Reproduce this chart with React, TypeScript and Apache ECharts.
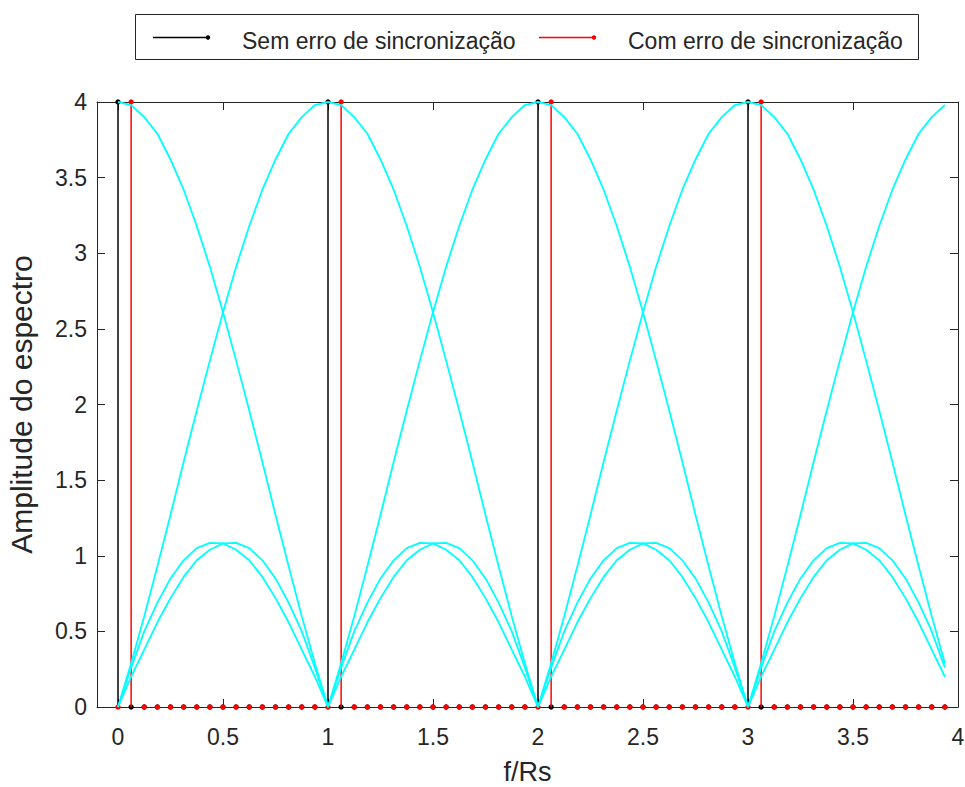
import React, { useEffect, useRef } from 'react';
import * as echarts from 'echarts';

// Normalised frequency f/Rs of every sample
const FREQ = [
  0, 0.0625, 0.125, 0.1875, 0.25, 0.3125, 0.375, 0.4375, 0.5, 0.5625, 0.625, 0.6875, 0.75, 0.8125, 0.875, 0.9375,
  1, 1.0625, 1.125, 1.1875, 1.25, 1.3125, 1.375, 1.4375, 1.5, 1.5625, 1.625, 1.6875, 1.75, 1.8125, 1.875, 1.9375,
  2, 2.0625, 2.125, 2.1875, 2.25, 2.3125, 2.375, 2.4375, 2.5, 2.5625, 2.625, 2.6875, 2.75, 2.8125, 2.875, 2.9375,
  3, 3.0625, 3.125, 3.1875, 3.25, 3.3125, 3.375, 3.4375, 3.5, 3.5625, 3.625, 3.6875, 3.75, 3.8125, 3.875, 3.9375,
];

// Stem values: "Sem erro de sincronização" (black)
const STEM_SEM = [
  4, 0, 0, 0, 0, 0, 0, 0, 0, 0, 0, 0, 0, 0, 0, 0,
  4, 0, 0, 0, 0, 0, 0, 0, 0, 0, 0, 0, 0, 0, 0, 0,
  4, 0, 0, 0, 0, 0, 0, 0, 0, 0, 0, 0, 0, 0, 0, 0,
  4, 0, 0, 0, 0, 0, 0, 0, 0, 0, 0, 0, 0, 0, 0, 0,
];

// Stem values: "Com erro de sincronização" (red)
const STEM_COM = [
  0, 4, 0, 0, 0, 0, 0, 0, 0, 0, 0, 0, 0, 0, 0, 0,
  0, 4, 0, 0, 0, 0, 0, 0, 0, 0, 0, 0, 0, 0, 0, 0,
  0, 4, 0, 0, 0, 0, 0, 0, 0, 0, 0, 0, 0, 0, 0, 0,
  0, 4, 0, 0, 0, 0, 0, 0, 0, 0, 0, 0, 0, 0, 0, 0,
];

// Cyan spectrum envelopes (one per carrier at 0, 1, 2, 3)
const ENV_0 = [
  4.00, 3.98, 3.90, 3.79, 3.62, 3.42, 3.18, 2.91, 2.61, 2.29, 1.96, 1.62, 1.27, 0.93, 0.60, 0.29,
  0, 0.26, 0.50, 0.69, 0.85, 0.97, 1.05, 1.085, 1.082, 1.04, 0.97, 0.86, 0.72, 0.56, 0.38, 0.20,
  0, 0.20, 0.38, 0.56, 0.72, 0.86, 0.97, 1.04, 1.082, 1.085, 1.05, 0.97, 0.85, 0.69, 0.50, 0.26,
  0, 0.29, 0.60, 0.93, 1.27, 1.62, 1.96, 2.29, 2.61, 2.91, 3.18, 3.42, 3.62, 3.79, 3.90, 3.98,
];
const ENV_1 = [
  0, 0.29, 0.60, 0.93, 1.27, 1.62, 1.96, 2.29, 2.61, 2.91, 3.18, 3.42, 3.62, 3.79, 3.90, 3.98,
  4.00, 3.98, 3.90, 3.79, 3.62, 3.42, 3.18, 2.91, 2.61, 2.29, 1.96, 1.62, 1.27, 0.93, 0.60, 0.29,
  0, 0.26, 0.50, 0.69, 0.85, 0.97, 1.05, 1.085, 1.082, 1.04, 0.97, 0.86, 0.72, 0.56, 0.38, 0.20,
  0, 0.20, 0.38, 0.56, 0.72, 0.86, 0.97, 1.04, 1.082, 1.085, 1.05, 0.97, 0.85, 0.69, 0.50, 0.26,
];
const ENV_2 = [
  0, 0.20, 0.38, 0.56, 0.72, 0.86, 0.97, 1.04, 1.082, 1.085, 1.05, 0.97, 0.85, 0.69, 0.50, 0.26,
  0, 0.29, 0.60, 0.93, 1.27, 1.62, 1.96, 2.29, 2.61, 2.91, 3.18, 3.42, 3.62, 3.79, 3.90, 3.98,
  4.00, 3.98, 3.90, 3.79, 3.62, 3.42, 3.18, 2.91, 2.61, 2.29, 1.96, 1.62, 1.27, 0.93, 0.60, 0.29,
  0, 0.26, 0.50, 0.69, 0.85, 0.97, 1.05, 1.085, 1.082, 1.04, 0.97, 0.86, 0.72, 0.56, 0.38, 0.20,
];
const ENV_3 = [
  0, 0.26, 0.50, 0.69, 0.85, 0.97, 1.05, 1.085, 1.082, 1.04, 0.97, 0.86, 0.72, 0.56, 0.38, 0.20,
  0, 0.20, 0.38, 0.56, 0.72, 0.86, 0.97, 1.04, 1.082, 1.085, 1.05, 0.97, 0.85, 0.69, 0.50, 0.26,
  0, 0.29, 0.60, 0.93, 1.27, 1.62, 1.96, 2.29, 2.61, 2.91, 3.18, 3.42, 3.62, 3.79, 3.90, 3.98,
  4.00, 3.98, 3.90, 3.79, 3.62, 3.42, 3.18, 2.91, 2.61, 2.29, 1.96, 1.62, 1.27, 0.93, 0.60, 0.29,
];

const LEGEND_LABELS = ['Sem erro de sincronização', 'Com erro de sincronização'];
const X_NAME = 'f/Rs';
const Y_NAME = 'Amplitude do espectro';

const FONT = '"Liberation Sans", Arial, Helvetica, sans-serif';
const AXIS_COLOR = '#262626';

function stemSeries(name: string, values: number[], color: string, z: number) {
  return {
    name,
    type: 'custom',
    xAxisIndex: 0,
    yAxisIndex: 0,
    z,
    clip: false,
    silent: true,
    data: FREQ.map((f, i) => [f, values[i]]),
    renderItem: (_params: any, api: any) => {
      const x = api.value(0);
      const y = api.value(1);
      const p0 = api.coord([x, 0]);
      const p1 = api.coord([x, y]);
      return {
        type: 'group',
        children: [
          {
            type: 'line',
            shape: { x1: p0[0], y1: p0[1], x2: p1[0], y2: p1[1] },
            style: { stroke: color, lineWidth: 1.5 },
          },
          {
            type: 'circle',
            shape: { cx: p1[0], cy: p1[1], r: 2.7 },
            style: { fill: color, stroke: null },
          },
        ],
      };
    },
  };
}

function envSeries(values: number[]) {
  return {
    type: 'line',
    xAxisIndex: 0,
    yAxisIndex: 0,
    z: 4,
    showSymbol: false,
    silent: true,
    clip: false,
    lineStyle: { color: '#00FFFF', width: 1.8 },
    data: FREQ.map((f, i) => [f, values[i]]),
  };
}

export default function App() {
  const ref = useRef<HTMLDivElement>(null);
  useEffect(() => {
    const chart = echarts.init(ref.current!, null, { renderer: 'svg' });
    const axisLine = { show: true, onZero: false, lineStyle: { color: AXIS_COLOR, width: 1 } };
    const tick = { show: true, inside: true, length: 8, lineStyle: { color: AXIS_COLOR, width: 1 } };
    const option: any = {
      animation: false,
      backgroundColor: '#ffffff',
      textStyle: { fontFamily: FONT },
      grid: {
        left: 97,
        right: 7,
        top: 102,
        bottom: 80,
        containLabel: false,
        outerBoundsMode: 'none',
      },
      xAxis: [
        {
          type: 'value',
          min: -0.1,
          max: 4,
          splitNumber: 8,
          position: 'bottom',
          axisLine,
          axisTick: tick,
          splitLine: { show: false },
          axisLabel: {
            color: AXIS_COLOR,
            fontSize: 23,
            fontFamily: FONT,
            margin: 18,
            showMinLabel: false,
            formatter: (v: number) => (v < 0 ? '' : String(v)),
          },
          name: X_NAME,
          nameLocation: 'middle',
          nameGap: 51,
          nameTextStyle: { color: AXIS_COLOR, fontSize: 27, fontFamily: FONT },
        },
        {
          type: 'value',
          min: -0.1,
          max: 4,
          splitNumber: 8,
          position: 'top',
          axisLine,
          axisTick: tick,
          splitLine: { show: false },
          axisLabel: { show: false },
        },
      ],
      yAxis: [
        {
          type: 'value',
          min: 0,
          max: 4,
          interval: 0.5,
          position: 'left',
          axisLine,
          axisTick: tick,
          splitLine: { show: false },
          axisLabel: { color: AXIS_COLOR, fontSize: 23, fontFamily: FONT, margin: 10 },
          name: Y_NAME,
          nameLocation: 'middle',
          nameRotate: 90,
          nameGap: 61,
          nameTextStyle: { color: AXIS_COLOR, fontSize: 30, fontFamily: FONT },
        },
        {
          type: 'value',
          min: 0,
          max: 4,
          interval: 0.5,
          position: 'right',
          axisLine,
          axisTick: tick,
          splitLine: { show: false },
          axisLabel: { show: false },
        },
      ],
      series: [
        stemSeries(LEGEND_LABELS[0], STEM_SEM, '#000000', 2),
        stemSeries(LEGEND_LABELS[1], STEM_COM, '#FF0000', 3),
        envSeries(ENV_0),
        envSeries(ENV_1),
        envSeries(ENV_2),
        envSeries(ENV_3),
      ],
      graphic: [
        {
          type: 'rect',
          z: 10,
          shape: { x: 135.5, y: 14.5, width: 783, height: 45 },
          style: { fill: '#ffffff', stroke: AXIS_COLOR, lineWidth: 1 },
        },
        {
          type: 'line',
          z: 11,
          shape: { x1: 153, y1: 37.5, x2: 208, y2: 37.5 },
          style: { stroke: '#000000', lineWidth: 1.5 },
        },
        { type: 'circle', z: 11, shape: { cx: 208, cy: 37.5, r: 2.2 }, style: { fill: '#000000' } },
        {
          type: 'text',
          z: 11,
          x: 242,
          y: 40.5,
          style: {
            text: LEGEND_LABELS[0],
            fill: AXIS_COLOR,
            font: `23px ${FONT}`,
            verticalAlign: 'middle',
            align: 'left',
          },
        },
        {
          type: 'line',
          z: 11,
          shape: { x1: 539, y1: 37.5, x2: 594, y2: 37.5 },
          style: { stroke: '#FF0000', lineWidth: 1.5 },
        },
        { type: 'circle', z: 11, shape: { cx: 594, cy: 37.5, r: 2.2 }, style: { fill: '#FF0000' } },
        {
          type: 'text',
          z: 11,
          x: 628,
          y: 40.5,
          style: {
            text: LEGEND_LABELS[1],
            fill: AXIS_COLOR,
            font: `23px ${FONT}`,
            verticalAlign: 'middle',
            align: 'left',
          },
        },
      ],
    };
    chart.setOption(option);
    return () => chart.dispose();
  }, []);
  return (
    <div
      ref={ref}
      style={{ position: 'fixed', left: 0, top: 0, width: 965, height: 787, background: '#ffffff' }}
    />
  );
}
